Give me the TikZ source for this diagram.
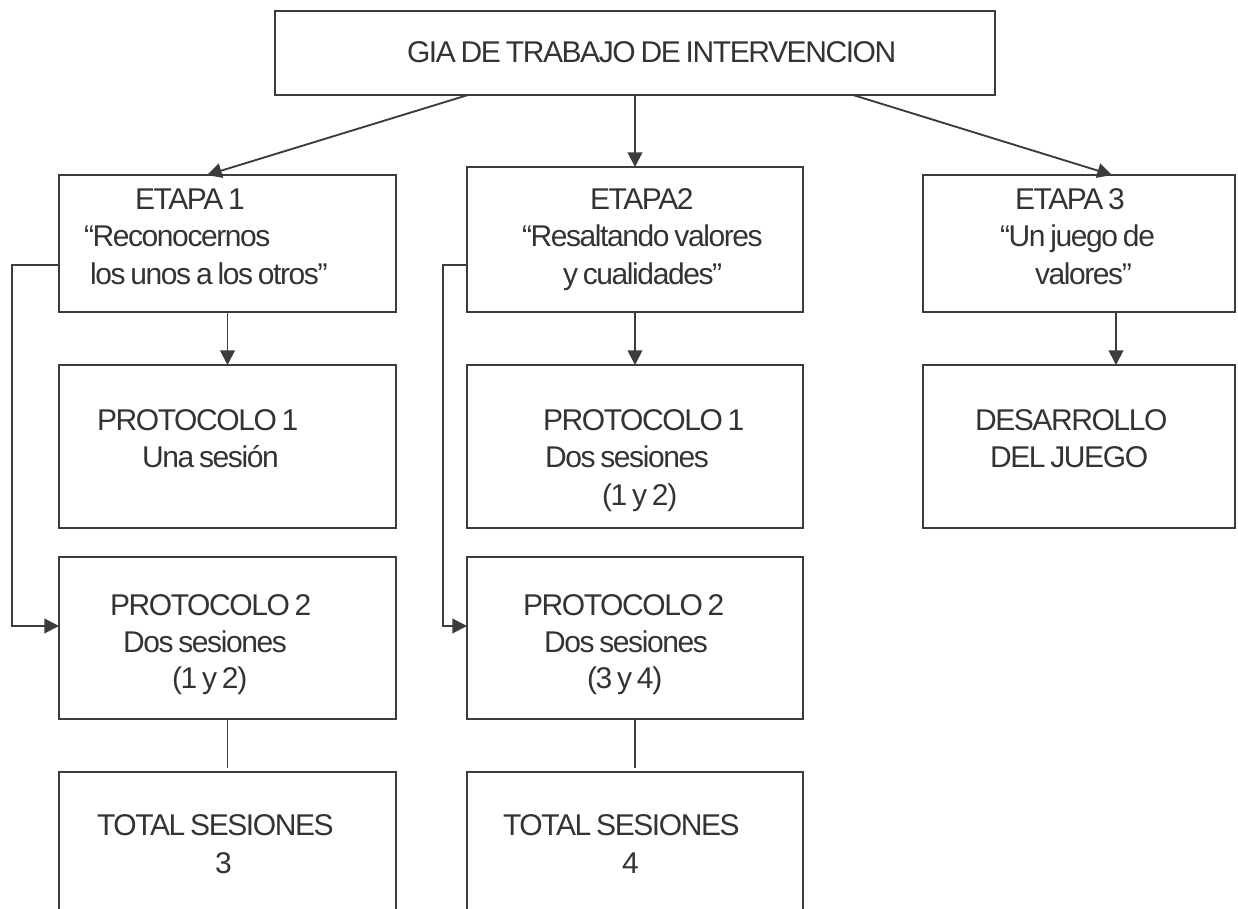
\documentclass[tikz,border=0pt]{standalone}
\usepackage{fontspec}
\setmainfont{Liberation Sans}[LetterSpace=-4.7,WordSpace=0.7]
\usetikzlibrary{arrows.meta}
\definecolor{linegray}{RGB}{60,60,60}
\definecolor{textgray}{RGB}{51,51,51}
\tikzset{
  box/.style={draw=linegray, line width=1.4pt, rectangle, inner sep=0pt, outer sep=0pt, fill=none},
  txt/.style={inner sep=0pt, outer sep=0pt, anchor=base west, text=textgray, font={\fontsize{22.5}{27}\selectfont}},
  arr/.style={draw=linegray, line width=1.4pt, -{Triangle[length=11pt,width=11pt]}},
  conn/.style={draw=linegray, line width=1.4pt}
}
\begin{document}
\begin{tikzpicture}[x=0.75pt,y=-0.75pt]
\clip (0,0) rectangle (1238,909);
% boxes
\node[box, minimum width=540pt, minimum height=63pt] (top) at (635,53) {};
\node[box, minimum width=252.75pt, minimum height=102.75pt] (e1) at (227.5,243.5) {};
\node[box, minimum width=252.75pt, minimum height=122.25pt] (p11) at (227.5,446.5) {};
\node[box, minimum width=252.75pt, minimum height=121.5pt] (p12) at (227.5,638) {};
\node[box, minimum width=252.75pt, minimum height=133.5pt] (t1) at (227.5,861) {};
\node[box, minimum width=252pt, minimum height=108.75pt] (e2) at (635,239.5) {};
\node[box, minimum width=252pt, minimum height=122.25pt] (p21) at (635,446.5) {};
\node[box, minimum width=252pt, minimum height=121.5pt] (p22) at (635,638) {};
\node[box, minimum width=252pt, minimum height=133.5pt] (t2) at (635,861) {};
\node[box, minimum width=234pt, minimum height=102.75pt] (e3) at (1079,243.5) {};
\node[box, minimum width=234pt, minimum height=122.25pt] (d3) at (1079,446.5) {};
% texts
\node[txt] (ttop) at (407,63) {GIA DE TRABAJO DE INTERVENCION};
\node[txt] (e1a) at (135,210) {ETAPA 1};
\node[txt] (e1b) at (84,247) {“Reconocernos};
\node[txt] (e1c) at (90,284) {los unos a los otros”};
\node[txt] (p11a) at (97,430) {PROTOCOLO 1};
\node[txt] (p11b) at (142,467) {Una sesión};
\node[txt] (p12a) at (110,615) {PROTOCOLO 2};
\node[txt] (p12b) at (123,652) {Dos sesiones};
\node[txt] (p12c) at (172,688) {(1 y 2)};
\node[txt] (t1a) at (97,835) {TOTAL SESIONES};
\node[txt] (t1b) at (215,873) {3};
\node[txt] (e2a) at (590,210) {ETAPA2};
\node[txt] (e2b) at (522,247) {“Resaltando valores};
\node[txt] (e2c) at (563,284) {y cualidades”};
\node[txt] (p21a) at (543,430) {PROTOCOLO 1};
\node[txt] (p21b) at (545,467) {Dos sesiones};
\node[txt] (p21c) at (602,505) {(1 y 2)};
\node[txt] (p22a) at (523,615) {PROTOCOLO 2};
\node[txt] (p22b) at (544,652) {Dos sesiones};
\node[txt] (p22c) at (587,688) {(3 y 4)};
\node[txt] (t2a) at (503,835) {TOTAL SESIONES};
\node[txt] (t2b) at (622,873) {4};
\node[txt] (e3a) at (1015,210) {ETAPA 3};
\node[txt] (e3b) at (1000,247) {“Un juego de};
\node[txt] (e3c) at (1035,284) {valores”};
\node[txt] (d3a) at (975,430) {DESARROLLO};
\node[txt] (d3b) at (990,467) {DEL JUEGO};
% connectors
\draw[arr] (top.south -| 468,0) -- (e1.north -| 207,0);
\draw[arr] (top.south) -- (e2.north);
\draw[arr] (top.south -| 853,0) -- (e3.north -| 1112,0);
\draw[arr] (e1.south) -- (p11.north);
\draw[arr] (e2.south) -- (p21.north);
\draw[arr] (e3.south -| 1116,0) -- (d3.north -| 1116,0);
\draw[conn, shorten >=3pt] (p12.south) -- (t1.north);
\draw[conn, shorten >=3pt] (p22.south) -- (t2.north);
\coordinate (b1) at (12,265);
\coordinate (b2) at (443,265);
\draw[arr] (e1.west |- b1) -- (b1) |- (p12.west |- 0,626);
\draw[arr] (e2.west |- b2) -- (b2) |- (p22.west |- 0,626);
\end{tikzpicture}
\end{document}
